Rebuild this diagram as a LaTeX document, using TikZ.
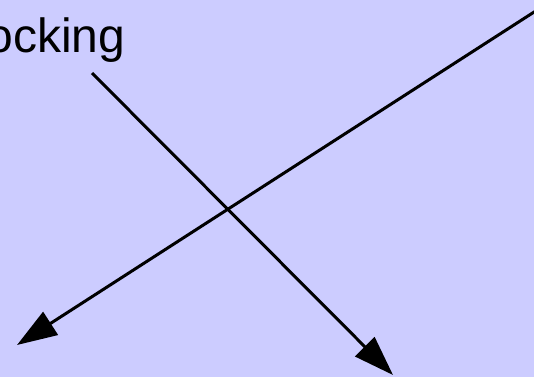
\documentclass[tikz,border=0pt]{standalone}
\usepackage{fontspec}
\setmainfont{Liberation Sans}
\usetikzlibrary{arrows.meta}
\definecolor{bgblue}{RGB}{204,204,255}

\begin{document}
\begin{tikzpicture}[x=1pt,y=-1pt,>={Triangle[length=40pt,width=27pt]}]
  \useasboundingbox (0,0) rectangle (534,377);
  \fill[bgblue] (0,0) rectangle (534,377);
  \node[anchor=base east,inner sep=0pt,font=\fontsize{48}{58}\selectfont] (label) at (125.5,52.7) {ocking};
  \coordinate (tailA) at (92,73);
  \coordinate (tipA) at (393,375);
  \coordinate (tailB) at (540,8.2);
  \coordinate (tipB) at (17,345);
  \draw[->,line width=3pt] (tailA) -- (tipA);
  \draw[->,line width=3pt] (tailB) -- (tipB);
\end{tikzpicture}
\end{document}
